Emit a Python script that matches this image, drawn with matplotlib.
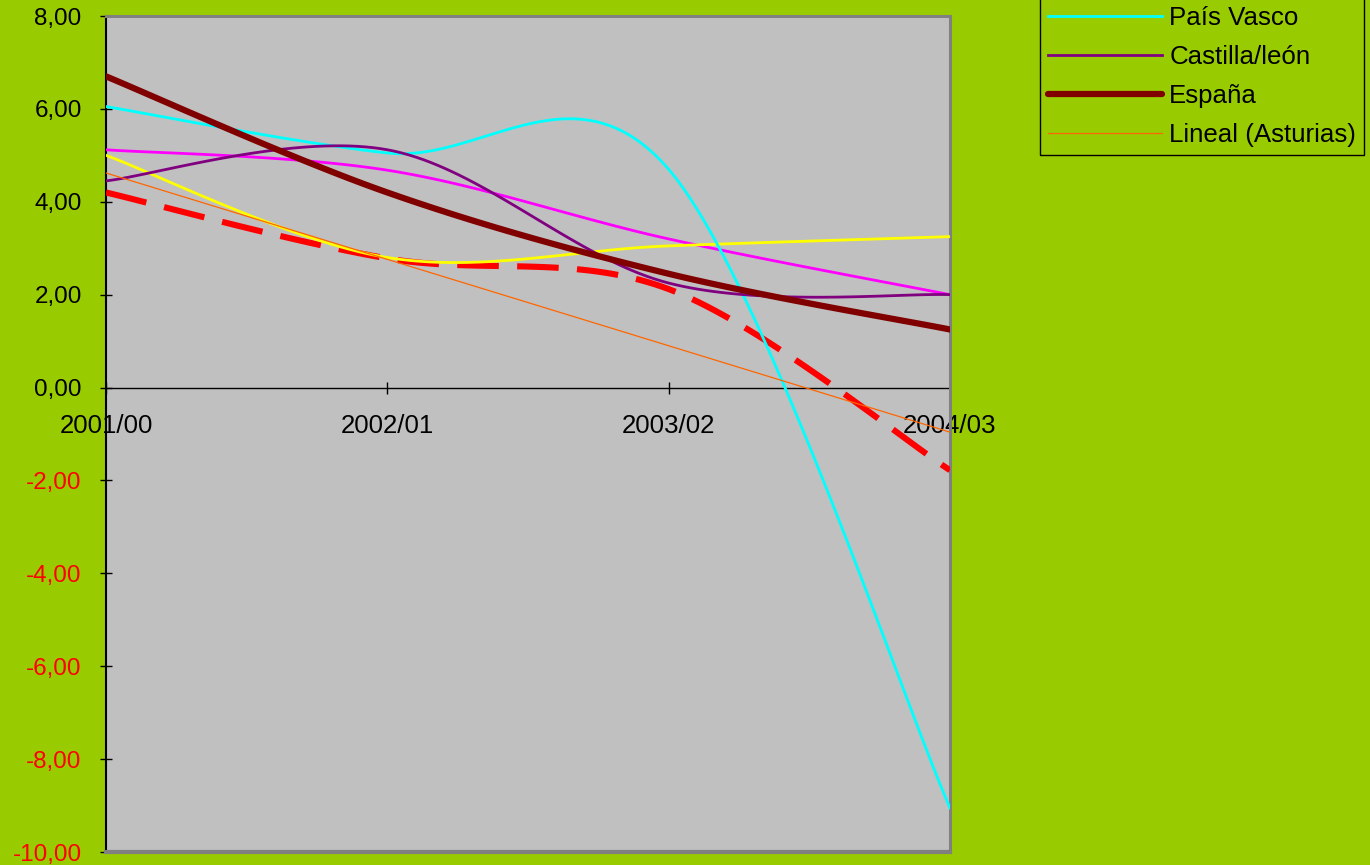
import matplotlib.pyplot as plt
import numpy as np

plt.rcParams['font.family'] = ['Liberation Sans', 'DejaVu Sans']

# curso / periodo
cursos = ['2001/00', '2002/01', '2003/02', '2004/03']

# series (variacion %)
asturias = [4.20, 2.78, 2.12, -1.78]
serie_magenta = [5.12, 4.68, 3.20, 2.00]
serie_amarilla = [5.00, 2.80, 3.05, 3.25]
pais_vasco = [6.05, 5.05, 4.70, -9.05]
castilla_leon = [4.45, 5.12, 2.25, 2.00]
espana = [6.70, 4.20, 2.45, 1.25]

yticks = np.arange(-10, 9, 2)


def suavizar(y, n=40):
    # curva suavizada tipo Excel (bezier con tangentes catmull-rom)
    x = np.arange(len(y), dtype=float)
    y = np.asarray(y, dtype=float)
    pts = np.column_stack([x, y])
    m = len(pts)
    out = []
    t = np.linspace(0, 1, n)[:, None]
    for i in range(m - 1):
        p0 = pts[i]
        p3 = pts[i + 1]
        c1 = p0 + (pts[min(i + 1, m - 1)] - pts[max(i - 1, 0)]) / 6.0
        c2 = p3 - (pts[min(i + 2, m - 1)] - pts[i]) / 6.0
        seg = ((1 - t) ** 3) * p0 + 3 * ((1 - t) ** 2) * t * c1 \
            + 3 * (1 - t) * t ** 2 * c2 + t ** 3 * p3
        if i > 0:
            seg = seg[1:]
        out.append(seg)
    out = np.vstack(out)
    return out[:, 0], out[:, 1]


fig = plt.figure(figsize=(13.7, 8.65), dpi=100)
fig.patch.set_facecolor('#99CC00')

ax = fig.add_axes([106 / 1370, 1 - 852 / 865, (950 - 106) / 1370, (852 - 16) / 865])
ax.set_facecolor('#C0C0C0')

x, y = suavizar(asturias)
ax.plot(x, y, color='#FF0000', lw=4.4, dashes=(6.8, 3.0), solid_capstyle='butt',
        dash_capstyle='butt', zorder=3)
x, y = suavizar(serie_magenta)
ax.plot(x, y, color='#FF00FF', lw=2.0, zorder=3)
x, y = suavizar(serie_amarilla)
ax.plot(x, y, color='#FFFF00', lw=2.0, zorder=3)
x, y = suavizar(pais_vasco)
l_pv, = ax.plot(x, y, color='#00FFFF', lw=2.0, zorder=3)
x, y = suavizar(castilla_leon)
l_cl, = ax.plot(x, y, color='#800080', lw=2.0, zorder=3)
x, y = suavizar(espana)
l_es, = ax.plot(x, y, color='#800000', lw=4.5, solid_capstyle='round', zorder=3)

# tendencia lineal de Asturias
xi = np.arange(len(asturias))
coef = np.polyfit(xi, asturias, 1)
l_tr, = ax.plot(xi, np.polyval(coef, xi), color='#FF6600', lw=0.9, zorder=4)

ax.set_xlim(0, len(cursos) - 1)
ax.set_ylim(-10, 8)

# eje de categorias en el cero
ax.spines['bottom'].set_position(('data', 0))
ax.spines['bottom'].set_color('black')
ax.spines['bottom'].set_linewidth(1.0)
ax.spines['bottom'].set_zorder(2)
ax.spines['left'].set_color('black')
ax.spines['left'].set_linewidth(1.5)
for s in ['top', 'right']:
    ax.spines[s].set_color('#808080')
    ax.spines[s].set_linewidth(2.2)
ax.axhline(-10, color='#808080', lw=3, clip_on=False, zorder=5)

ax.set_xticks(range(len(cursos)))
ax.set_xticklabels(cursos, fontsize=18.6)
ax.tick_params(axis='x', direction='inout', length=8.5, width=1, pad=15)

ax.set_yticks(yticks)
ax.set_yticklabels([('%.2f' % v).replace('.', ',') for v in yticks], fontsize=17.5)
ax.tick_params(axis='y', direction='inout', length=8, width=1, pad=13.5)
for v, lab in zip(yticks, ax.get_yticklabels()):
    lab.set_color('red' if v < 0 else 'black')

leg = fig.legend([l_pv, l_cl, l_es, l_tr],
                 ['País Vasco', 'Castilla/león', 'España', 'Lineal (Asturias)'],
                 loc='lower left', bbox_to_anchor=(1040 / 1370, 1 - 155 / 865),
                 bbox_transform=fig.transFigure, borderaxespad=0,
                 fontsize=18.6, handlelength=4.4, handletextpad=0.28,
                 labelspacing=0.58, borderpad=0.32, fancybox=False,
                 framealpha=1, facecolor='#99CC00', edgecolor='black')
leg.get_frame().set_linewidth(1.0)

fig.savefig('out.png', dpi=100, facecolor=fig.get_facecolor())
